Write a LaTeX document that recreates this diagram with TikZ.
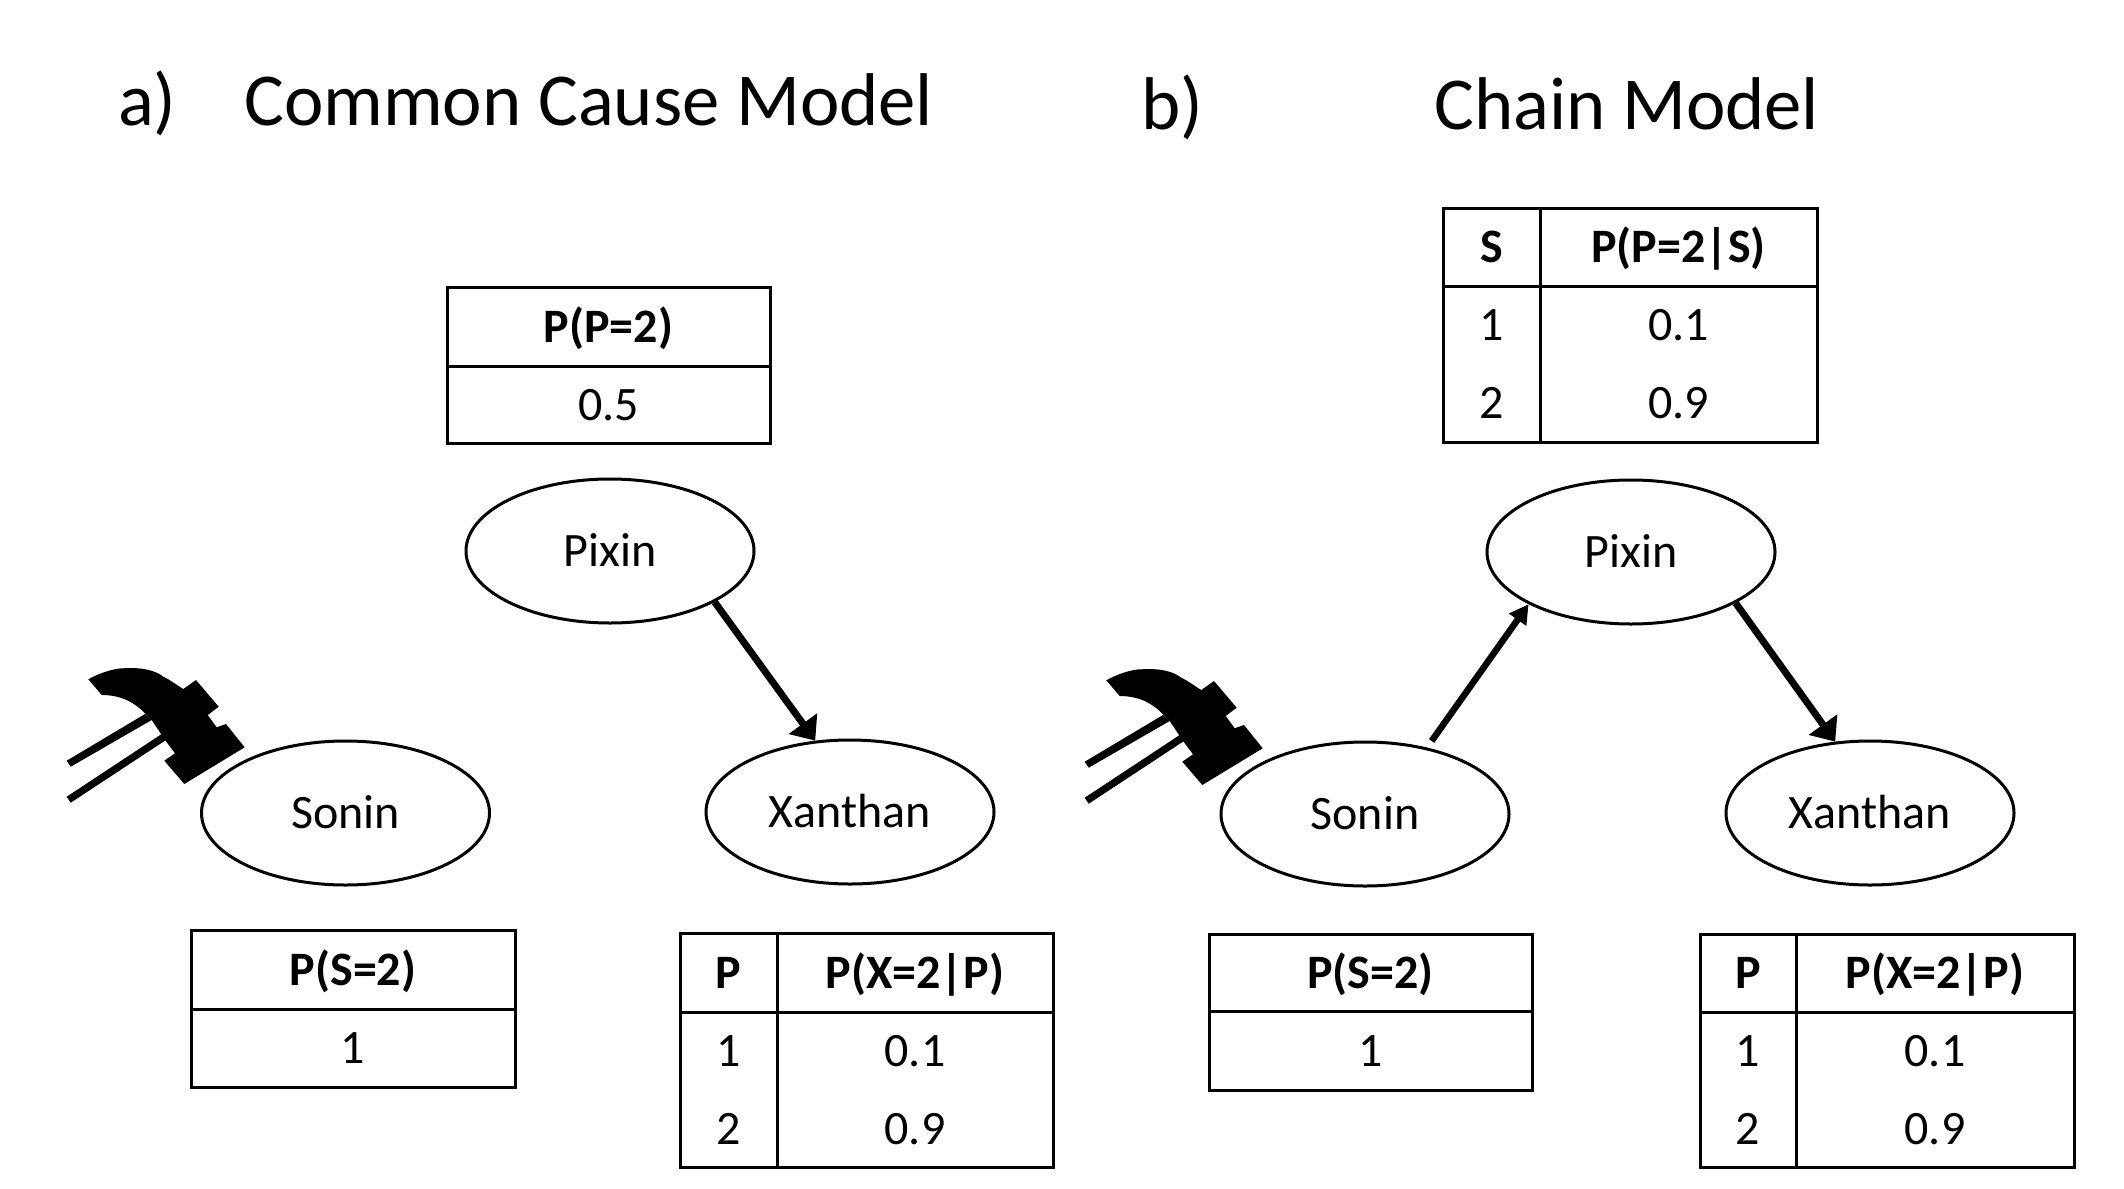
\documentclass[tikz,border=0pt]{standalone}
\usepackage{fontspec}
\setmainfont{Carlito}
\usetikzlibrary{shapes.geometric,arrows.meta}
\tikzset{
  model/.style={ellipse,draw=black,line width=3pt,minimum width=288pt,minimum height=144pt,inner sep=0pt,font=\fontsize{48}{48}\selectfont,text height=31.5pt,text depth=0pt},
  link/.style={line width=7pt,-{Triangle[length=21pt,width=34pt]}},
  slimlink/.style={line width=6.5pt,-{Triangle[length=19pt,width=20pt]},shorten <=8pt},
  grid/.style={draw=black,line width=3pt},
  val/.style={inner sep=0pt,font=\fontsize{48}{48}\selectfont,text height=31.5pt,text depth=0pt},
  head/.style={val,font=\fontsize{48}{48}\selectfont\bfseries},
  title/.style={inner sep=0pt,anchor=base west,font=\fontsize{74.7}{75}\selectfont},
}
\newcommand{\onecol}[7]{%
  \draw[grid] (#1,#3) rectangle (#2,#5) (#1,#4) -- (#2,#4);
  \node[head] at ({(#1+#2)/2},{(#3+#4)/2}) {#6};
  \node[val] at ({(#1+#2)/2},{(#4+#5)/2}) {#7};
}
\newcommand{\twocol}[8]{%
  \draw[grid] (#1,#4) rectangle (#3,#6) (#1,#5) -- (#3,#5) (#2,#4) -- (#2,#6);
  \node[head] at ({(#1+#2)/2},{(#4+#5)/2}) {#7};
  \node[head] at ({(#2+#3)/2},{(#4+#5)/2}) {#8};
  \node[val] at ({(#1+#2)/2},{#5+(#6-#5)/4}) {1};
  \node[val] at ({(#1+#2)/2},{#5+3*(#6-#5)/4}) {2};
  \node[val] at ({(#2+#3)/2},{#5+(#6-#5)/4}) {0.1};
  \node[val] at ({(#2+#3)/2},{#5+3*(#6-#5)/4}) {0.9};
}
\newcommand{\hammer}[2]{%
  \begin{scope}[shift={(#1,#2)},x=1pt,y=-1pt]
    \fill[black] (88.3,679.3) .. controls (105,670) and (120,668) .. (123.3,668.3)
      .. controls (140,667) and (155,670) .. (163.3,676.7)
      .. controls (172,681) and (175,684) .. (183.3,689)
      -- (196,680) -- (218.7,706.7) -- (207.7,715) -- (216.7,727.3) -- (226,724)
      -- (244.7,747.3) -- (184.3,784) -- (164.3,760.7) -- (175,753.3) -- (165,740)
      -- (151.7,720) -- (145,713.3)
      .. controls (135,703) and (122,695) .. (101.7,695) -- cycle;
    \fill[black] (66.7,760.7) -- (145,714) -- (151.7,720) -- (70.7,766.7) -- cycle;
    \fill[black] (66.7,796.7) -- (161.7,734) -- (166,740) -- (70.7,802.7) -- cycle;
  \end{scope}
}
\begin{document}
\begin{tikzpicture}[x=1pt,y=-1pt]
\useasboundingbox (0,0) rectangle (2124,1188);
\node[title] (ta) at (118,125) {a)};
\node[title] (tat) at (244,125) {Common Cause Model};
\node[title] (tb) at (1141,129) {b)};
\node[title] (tbt) at (1434,129) {Chain Model};

\hammer{0}{0}
\hammer{1018}{1}

\node[model] (apix) at (610,551) {Pixin};
\node[model] (ason) at (345.5,813) {Sonin};
\node[model] (axan) at (850,812) {Xanthan};
\node[model] (bpix) at (1631,552) {Pixin};
\node[model] (bson) at (1365,814) {Sonin};
\node[model] (bxan) at (1870,813) {Xanthan};

\draw[link] (apix.-26) -- (axan.116.5);
\draw[slimlink] (bson.47) -- (bpix.207);
\draw[link] (bpix.-26) -- (bxan.116.5);

\onecol{447}{770}{287}{366}{443}{P(P=2)}{0.5}
\onecol{191}{515}{930}{1009}{1087}{P(S=2)}{1}
\twocol{680}{777}{1053}{933}{1012}{1167}{P}{P(X=2|P)}
\twocol{1443}{1540}{1817}{208}{286}{442}{S}{P(P=2|S)}
\onecol{1209}{1532}{934}{1011}{1090}{P(S=2)}{1}
\twocol{1700}{1796}{2074}{934}{1012}{1167}{P}{P(X=2|P)}
\end{tikzpicture}
\end{document}
